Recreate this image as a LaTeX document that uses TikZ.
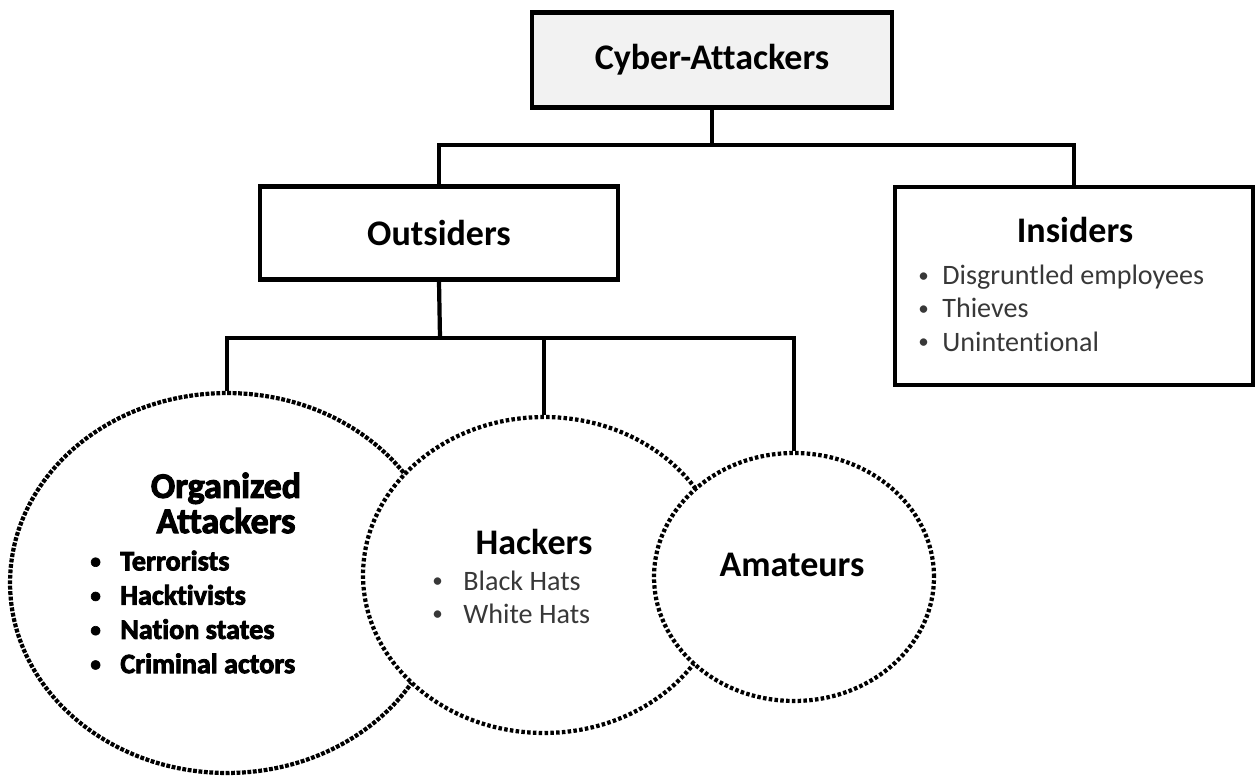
\documentclass[tikz,border=0pt]{standalone}
\usepackage{fontspec}
\setmainfont{Carlito}[Ligatures=NoCommon]
\newfontfamily\heavyfont{Carlito}[Ligatures=NoCommon, BoldFeatures={FakeBold=3}]
\usetikzlibrary{shapes.geometric}

\definecolor{boxgray}{gray}{0.95}
\definecolor{listgray}{gray}{0.22}

\tikzset{
  box/.style={draw, line width=2.4pt, minimum width=7.16cm, inner sep=0pt},
  conn/.style={line width=2.4pt},
  blob/.style={ellipse, draw, fill=white, line width=2.4pt, dash pattern=on 2pt off 1.3pt, inner sep=0pt},
  title/.style={font=\fontsize{20.5}{20}\selectfont\bfseries, inner sep=0pt},
  heavy/.style={font=\heavyfont\fontsize{20.5}{20}\selectfont\bfseries, inner sep=0pt},
  items/.style={font=\fontsize{16}{19}\selectfont, text=listgray, align=left, anchor=west, inner sep=0pt},
}
\newcommand{\bul}[2]{\makebox[#1][l]{\raisebox{0.08em}{\scalebox{0.75}{\textbullet}}}#2}

\begin{document}
\begin{tikzpicture}[x=0.02cm, y=-0.02cm]
  \useasboundingbox (0,0) rectangle (1256,776);

  % top level
  \node[box, fill=boxgray, minimum width=7.2cm, minimum height=1.9cm, title] (cyber) at (712,60) {Cyber-Attackers};
  \node[box, minimum height=1.86cm, title] (outs) at (439,233) {Outsiders};
  \node[box, minimum height=3.96cm] (ins) at (1074,286) {};
  \node[title] (insT) at (1075,230) {Insiders};
  \node[items] (insL) at (918,308) {\bul{0.48cm}{Disgruntled employees}\\
    \bul{0.48cm}{Thieves}\\
    \bul{0.48cm}{Unintentional}};

  \coordinate (j1) at (712,145);
  \coordinate (j2) at (440,338);
  \draw[conn] (cyber.south) -- (j1);
  \draw[conn] (outs.north) |- (j1) -| (ins.north);
  \draw[conn] (outs.south) -- (j2);

  % outsider groups
  \node[blob, dash pattern=on 2.2pt off 0.9pt, minimum width=8.68cm, minimum height=7.6cm] (org) at (227,583) {};
  \node[blob, minimum width=7.24cm, minimum height=6.32cm] (hack) at (544,575) {};
  \node[blob, minimum width=5.6cm, minimum height=4.96cm] (ama) at (794,577) {};

  \draw[conn] (org.north) |- (j2) -| (ama.north);
  \draw[conn] (hack.north) -- (hack.north |- j2);

  \node[heavy, align=center] (orgT) at (226,503) {Organized\\Attackers};
  \node[items, text=black, font=\heavyfont\fontsize{16}{19.5}\selectfont\bfseries] (orgL) at (90,612) {\bul{0.6cm}{Terrorists}\\
    \bul{0.6cm}{Hacktivists}\\
    \bul{0.6cm}{Nation states}\\
    \bul{0.6cm}{Criminal actors}};

  \node[title] (hackT) at (534,542) {Hackers};
  \node[items, font=\fontsize{16}{18.8}\selectfont] (hackL) at (432,597) {\bul{0.62cm}{Black Hats}\\
    \bul{0.62cm}{White Hats}};

  \node[title] (amaT) at (792,565) {Amateurs};
\end{tikzpicture}
\end{document}
